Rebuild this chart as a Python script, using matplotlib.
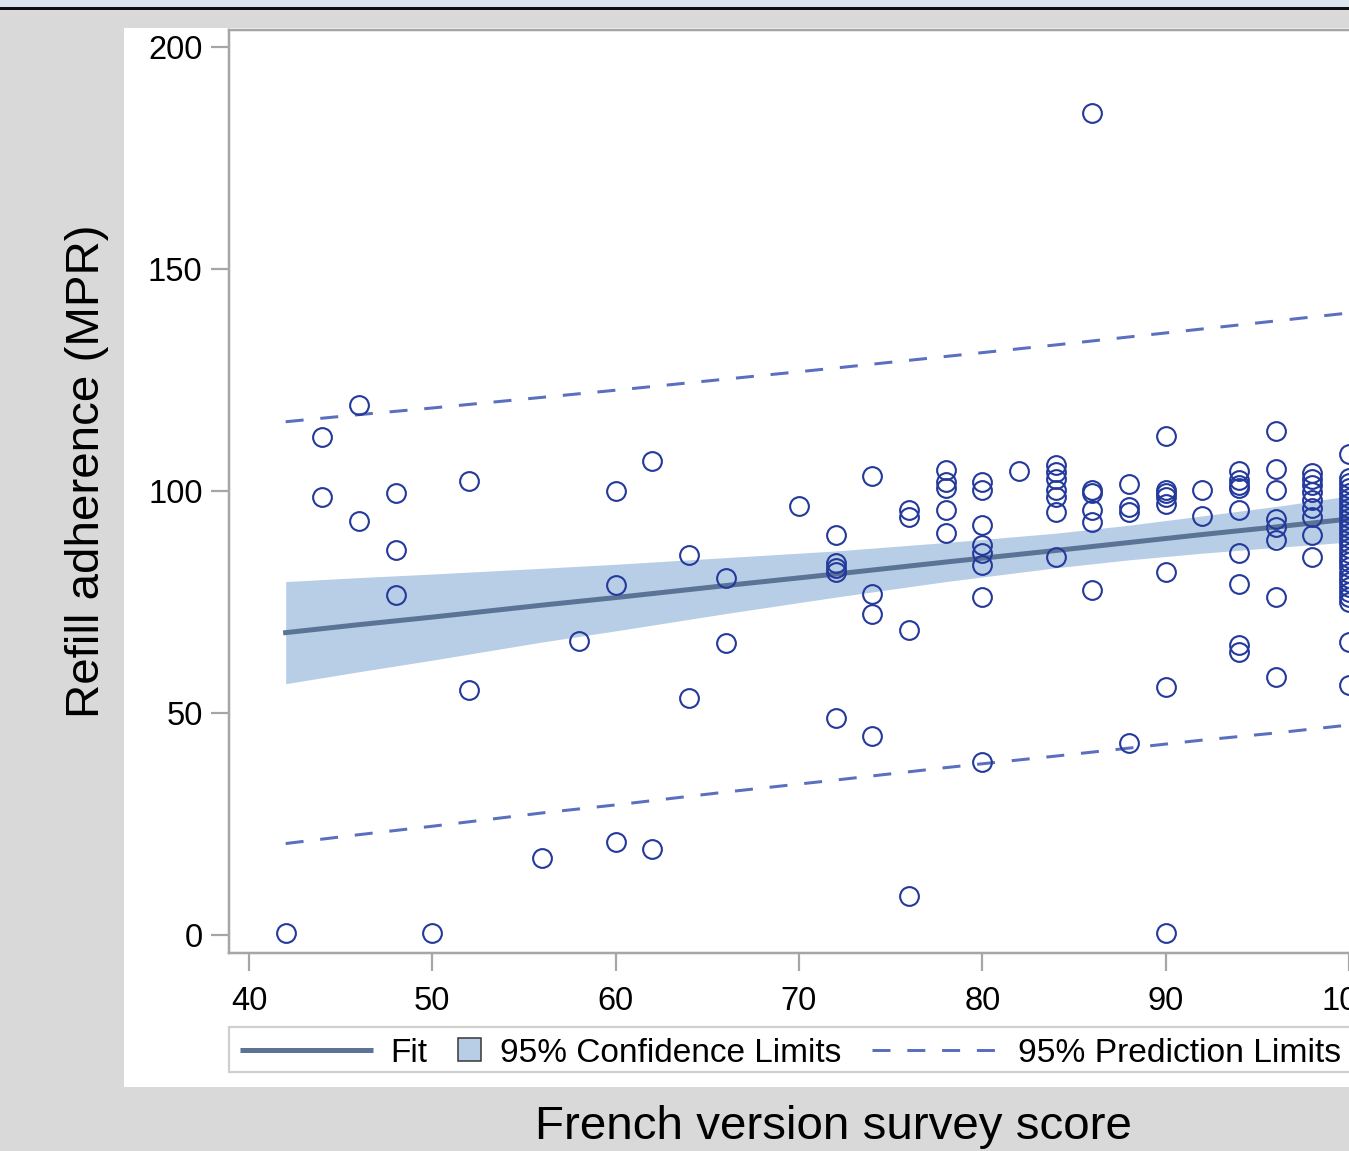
import matplotlib
matplotlib.use('Agg')
import matplotlib.pyplot as plt
from matplotlib.patches import Rectangle
from matplotlib.lines import Line2D

W, H, DPI = 1349, 1151, 100

# ---------------- data ----------------
score_levels = [42, 44, 46, 48, 50, 52, 56, 58, 60, 62, 64, 66, 70, 72, 74, 76,
                78, 80, 82, 84, 86, 88, 90, 92, 94, 96, 98, 100]
mpr_by_score = [
    [0.4],
    [112.2, 98.6],
    [119.4, 93.3],
    [99.6, 86.7, 76.6],
    [0.4],
    [102.3, 55.2],
    [17.3],
    [66.3],
    [100.0, 78.8, 20.9],
    [106.8, 19.4],
    [85.6, 53.4],
    [80.4, 65.8],
    [96.7],
    [90.2, 83.7, 82.6, 81.8, 48.9],
    [103.4, 76.8, 72.3, 44.8],
    [95.7, 94.1, 68.7, 8.8],
    [104.7, 102.1, 100.6, 95.7, 90.5],
    [102.1, 100.2, 92.3, 87.8, 86.0, 83.3, 76.2, 39.0],
    [104.6],
    [105.9, 104.3, 102.8, 100.2, 98.7, 95.3, 85.2],
    [185.1, 100.2, 99.5, 95.7, 93.1, 77.7],
    [101.6, 96.3, 95.3, 43.2],
    [112.4, 100.2, 99.5, 98.7, 97.1, 81.8, 55.9, 0.4],
    [100.2, 94.4],
    [104.5, 102.5, 101.4, 100.6, 95.7, 86.0, 79.0, 65.3, 63.8],
    [113.5, 104.9, 100.2, 93.8, 92.0, 89.0, 76.2, 58.2],
    [104.0, 102.6, 101.4, 99.8, 98.0, 96.1, 94.2, 90.1, 85.2],
    [108.3, 102.9, 101.8, 100.6, 99.5, 98.4, 97.3, 96.2, 95.0, 93.9, 92.8,
     91.7, 90.6, 89.4, 88.3, 87.2, 86.1, 85.0, 83.9, 82.8, 81.6, 80.5, 79.4,
     78.3, 77.2, 76.1, 75.0, 66.0, 56.3],
]

band_x    = [42, 46, 50, 56, 60, 66, 72, 78, 84, 88, 92, 96, 100]
fit_y     = [68.1, 69.9, 71.6, 74.3, 76.0, 78.7, 81.3, 84.0, 86.6, 88.4, 90.2, 91.9, 93.7]
ci_lower  = [56.6, 59.3, 61.9, 66.0, 68.5, 72.4, 76.1, 79.6, 82.7, 84.5, 86.0, 87.3, 88.5]
ci_upper  = [79.6, 80.5, 81.3, 82.6, 83.5, 85.0, 86.5, 88.4, 90.5, 92.3, 94.4, 96.5, 98.9]
pi_lower  = [20.6, 22.6, 24.5, 27.5, 29.3, 32.2, 34.9, 37.7, 40.3, 42.1, 43.9, 45.5, 47.3]
pi_upper  = [115.6, 117.2, 118.7, 121.1, 122.7, 125.2, 127.7, 130.3, 132.9, 134.7, 136.5, 138.3, 140.1]

x_ticks = [40, 50, 60, 70, 80, 90, 100]
y_ticks = [0, 50, 100, 150, 200]

x_label = "French version survey score"
y_label = "Refill adherence (MPR)"
legend_labels = ["Fit", "95% Confidence Limits", "95% Prediction Limits"]

# ---------------- styles ----------------
FONT = ['Liberation Sans', 'DejaVu Sans']
plt.rcParams['font.family'] = FONT
C_MARK = '#23399b'
C_FIT = '#5b7395'
C_CI = '#b8cee6'
C_PI = '#5a6fbf'
C_FRAME = '#a6a6a6'
PX = 72.0 / DPI  # points per pixel

fig = plt.figure(figsize=(W / DPI, H / DPI), dpi=DPI)

# background overlay in pixel coordinates
bg = fig.add_axes([0, 0, 1, 1], zorder=0)
bg.set_xlim(0, W)
bg.set_ylim(H, 0)
bg.set_axis_off()
bg.add_patch(Rectangle((0, 0), W, H, facecolor='#d9d9d9', edgecolor='none'))
bg.add_patch(Rectangle((0, 0), W, 7, facecolor='#dce6f1', edgecolor='none'))
bg.add_patch(Rectangle((0, 7), W, 2.5, facecolor='#111111', edgecolor='none'))
bg.add_patch(Rectangle((124, 28), W, 1087 - 28, facecolor='white', edgecolor='none'))

# legend (drawn manually to match layout)
LY = 1050
bg.add_patch(Rectangle((229, 1027), 1400, 45, facecolor='white',
                       edgecolor='#cfcfcf', linewidth=2.2 * PX))
bg.add_line(Line2D([240, 373], [LY, LY], color=C_FIT, linewidth=5 * PX,
                   solid_capstyle='butt'))
bg.text(390, LY + 3, legend_labels[0], fontsize=24, va='center', ha='left', color='black')
bg.add_patch(Rectangle((458, 1038), 23, 23, facecolor=C_CI, edgecolor='#333333',
                       linewidth=1.5 * PX))
bg.text(500, LY + 3, legend_labels[1], fontsize=24, va='center', ha='left', color='black')
bg.add_line(Line2D([872, 1000], [LY, LY], color=C_PI, linewidth=3 * PX,
                   dashes=(6, 5.6), solid_capstyle='butt', dash_capstyle='butt'))
bg.text(1018, LY + 3, legend_labels[2], fontsize=24.2, va='center', ha='left', color='black')

# axis titles
bg.text(833, 1127, x_label, fontsize=34.2, ha='center', va='center', color='black')
bg.text(87, 471, y_label, fontsize=34.2, ha='center', va='center', rotation=90, color='black')

# ---------------- main axes ----------------
left_px, right_px, top_px, bot_px = 229, 1369, 30, 953
ax = fig.add_axes([left_px / W, 1 - bot_px / H, (right_px - left_px) / W,
                   (bot_px - top_px) / H], zorder=1)
ax.set_facecolor('white')
ax.set_xlim(38.91, 101.09)
ax.set_ylim(-4.05, 203.83)

ax.fill_between(band_x, ci_lower, ci_upper, color=C_CI, linewidth=0, zorder=1)
ax.plot(band_x, fit_y, color=C_FIT, linewidth=5 * PX, zorder=2)
ax.plot(band_x, pi_upper, color=C_PI, linewidth=3 * PX, dashes=(6, 5.6), zorder=2)
ax.plot(band_x, pi_lower, color=C_PI, linewidth=3 * PX, dashes=(6, 5.6), zorder=2)

xs, ys = [], []
for s, vals in zip(score_levels, mpr_by_score):
    for v in vals:
        xs.append(s)
        ys.append(v)
ax.plot(xs, ys, linestyle='none', marker='o', markersize=13.5,
        markerfacecolor='none', markeredgecolor=C_MARK, markeredgewidth=1.5,
        zorder=3, clip_on=False)

ax.set_xticks(x_ticks)
ax.set_yticks(y_ticks)
ax.set_xticklabels([str(t) for t in x_ticks])
ax.set_yticklabels([str(t) for t in y_ticks])
ax.tick_params(axis='both', direction='out', length=13, width=2.2 * PX,
               color=C_FRAME, labelsize=23.5, labelcolor='black')
ax.tick_params(axis='x', pad=11)
ax.tick_params(axis='y', pad=6)
for sp in ax.spines.values():
    sp.set_color(C_FRAME)
    sp.set_linewidth(2.5 * PX)

fig.savefig('out.png', dpi=DPI)
